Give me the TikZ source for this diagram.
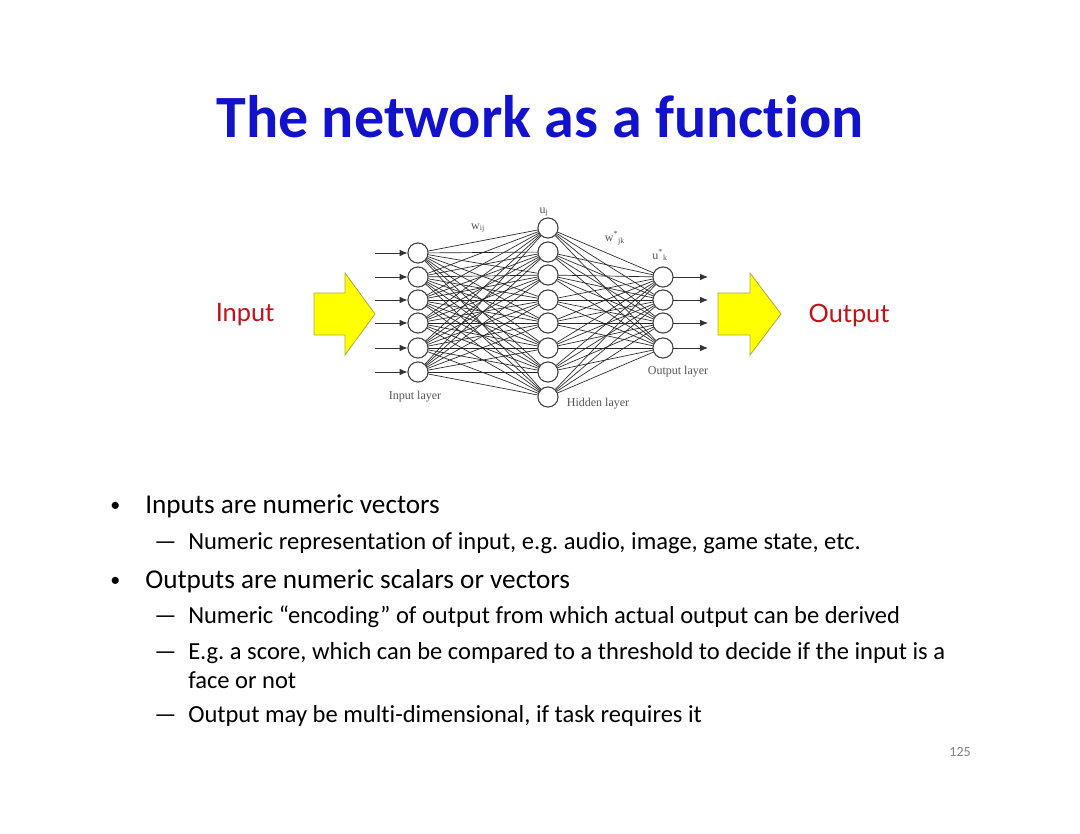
\documentclass[tikz,border=0pt]{standalone}
\usepackage{fontspec}
\setmainfont[Ligatures=NoCommon]{Carlito}
\newfontfamily\timesfont{Liberation Serif}
\newfontfamily\comicfont{Lato}
\usetikzlibrary{arrows.meta}
\frenchspacing
\definecolor{titleblue}{RGB}{18,18,204}
\definecolor{labred}{RGB}{196,16,24}
\definecolor{arrowyellow}{RGB}{255,255,0}
\definecolor{arrowedge}{RGB}{170,170,60}
\definecolor{lblgray}{RGB}{85,85,85}
\tikzset{
  neuron/.style={circle,draw=black!75,line width=0.7pt,fill=white,minimum size=15pt,inner sep=0pt},
  wire/.style={draw=black!85,line width=0.5pt},
  inarrow/.style={draw=black!80,line width=0.7pt,-{Latex[length=6pt,width=5pt]}},
  netlabel/.style={font=\timesfont\fontsize{9}{10}\selectfont,text=lblgray,inner sep=0pt},
  bigarrow/.style={draw=arrowedge,line width=0.6pt,fill=arrowyellow},
  bulletline/.style={anchor=base west,inner sep=0pt,font=\fontsize{20.4}{22}\selectfont},
  dotmark/.style={anchor=base west,inner sep=0pt,font=\fontsize{15}{16}\selectfont},
  subline/.style={anchor=base west,inner sep=0pt,font=\fontsize{18.4}{20}\selectfont},
}
\begin{document}
\begin{tikzpicture}[x=0.75pt,y=-0.75pt]
\useasboundingbox[fill=white] (0,0) rectangle (1080,834);

% title
\node[anchor=base,inner sep=0pt,text=titleblue,font=\bfseries\fontsize{45}{50}\selectfont] (title) at (540,138) {The network as a function};

% neuron positions
\foreach \i/\y in {1/253,2/277,3/300,4/323,5/348,6/372} {
  \coordinate (ic\i) at (418,\y);
}
\foreach \j/\y in {1/228,2/252,3/275,4/300,5/323,6/348,7/372,8/397} {
  \coordinate (hc\j) at (548,\y);
}
\foreach \k/\y in {1/277,2/300,3/323,4/348} {
  \coordinate (oc\k) at (663,\y);
}
\foreach \i in {1,...,6} \node[neuron] (in\i) at (ic\i) {};
\foreach \j in {1,...,8} \node[neuron] (hid\j) at (hc\j) {};
\foreach \k in {1,...,4} \node[neuron] (out\k) at (oc\k) {};

% wires
\foreach \i in {1,...,6} \foreach \j in {1,...,8} \draw[wire] (in\i) -- (hid\j);
\foreach \j in {1,...,8} \foreach \k in {1,...,4} \draw[wire] (hid\j) -- (out\k);
% neurons on top
\foreach \i in {1,...,6} \node[neuron] at (ic\i) {};
\foreach \j in {1,...,8} \node[neuron] at (hc\j) {};
\foreach \k in {1,...,4} \node[neuron] at (oc\k) {};

% input / output small arrows
\foreach \i/\y in {1/253,2/277,3/300,4/323,5/348,6/372} {
  \coordinate (ia\i) at (375,\y);
  \draw[inarrow] (ia\i) -- (in\i);
}
\foreach \k/\y in {1/277,2/300,3/323,4/348} {
  \coordinate (oa\k) at (708,\y);
  \draw[inarrow] (out\k) -- (oa\k);
}

% network labels
\node[netlabel] (wij) at (478,228) {w\textsubscript{ij}};
\node[netlabel] (uj) at (544,212) {u\textsubscript{j}};
\node[netlabel] (wjk) at (615,238) {w\textsuperscript{*}\textsubscript{jk}};
\node[netlabel] (uk) at (660,255) {u\textsuperscript{*}\textsubscript{k}};
\node[netlabel] (inlayer) at (415,397) {Input layer};
\node[netlabel] (hidlayer) at (598,404) {Hidden layer};
\node[netlabel] (outlayer) at (678,372) {Output layer};

% big yellow arrows
\draw[bigarrow] (314,293) -- (345,293) -- (345,273) -- (375,314) -- (345,355) -- (345,335) -- (314,335) -- cycle;
\draw[bigarrow] (718,293) -- (750,293) -- (750,273) -- (781,314) -- (750,355) -- (750,335) -- (718,335) -- cycle;

\node[inner sep=0pt,text=labred,font=\comicfont\fontsize{19}{21}\selectfont] (inputlbl) at (245,315) {Input};
\node[inner sep=0pt,text=labred,font=\comicfont\fontsize{19}{21}\selectfont] (outputlbl) at (849,315) {Output};

% bullets
\node[dotmark] (b1dot) at (110,511) {•};
\node[bulletline] (b1) at (145,513) {Inputs are numeric vectors};
\node[subline] (s1dash) at (154,549) {—};
\node[subline] (s1) at (188,549) {Numeric representation of input, e.g. audio, image, game state, etc.};
\node[dotmark] (b2dot) at (110,586) {•};
\node[bulletline] (b2) at (145,588) {Outputs are numeric scalars or vectors};
\node[subline] (s2dash) at (154,623) {—};
\node[subline] (s2) at (188,623) {Numeric “encoding” of output from which actual output can be derived};
\node[subline] (s3dash) at (154,659) {—};
\node[subline] (s3) at (188,659) {E.g. a score, which can be compared to a threshold to decide if the input is a};
\node[subline] (s3b) at (188,688) {face or not};
\node[subline] (s4dash) at (154,722) {—};
\node[subline] (s4) at (188,722) {Output may be multi-dimensional, if task requires it};

\node[anchor=base east,inner sep=0pt,text=black!50,font=\fontsize{10.5}{12}\selectfont] (pagenum) at (971,756) {125};
\end{tikzpicture}
\end{document}
